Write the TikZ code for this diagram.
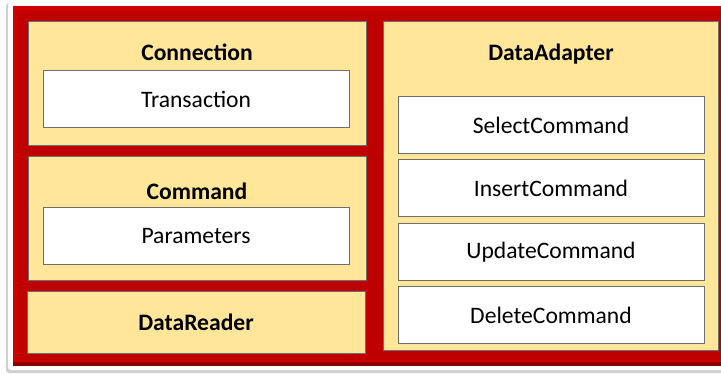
\documentclass[tikz,border=0pt]{standalone}
\usepackage{fontspec}
\setmainfont{Carlito}
\definecolor{frame}{HTML}{BE0000}
\definecolor{frametop}{HTML}{D00000}
\definecolor{framedark}{HTML}{8C0000}
\definecolor{panel}{HTML}{FFE699}
\definecolor{edge}{HTML}{6E6E6E}
\tikzset{
  panelbox/.style={draw=edge, line width=0.9pt, fill=panel},
  itembox/.style={draw=edge, line width=0.9pt, fill=white},
  lbl/.style={font=\fontsize{23.6}{28}\selectfont\bfseries, inner sep=0pt},
  itxt/.style={font=\fontsize{23.6}{28}\selectfont, inner sep=0pt},
}
\begin{document}
\begin{tikzpicture}[x=1pt, y=-1pt]
\useasboundingbox (0,0) rectangle (721,375);
% outer white frame with soft shadow
\fill[black!18, rounded corners=3pt] (6,3) rectangle (724,373);
\fill[white, rounded corners=3pt] (8,2) rectangle (724,370);
% red background with bevel
\fill[framedark] (13,6) rectangle (725,366);
\fill[frametop] (13,6) rectangle (722,362);
\fill[frame] (17,11) rectangle (722,360);
% left column
\draw[panelbox] (28,21) rectangle (366,145);
\node[lbl] (conn) at (197,52) {Connection};
\draw[itembox] (43,70) rectangle (349,127);
\node[itxt] (trans) at (196,99) {Transaction};

\draw[panelbox] (28,156) rectangle (366,280);
\node[lbl] (cmd) at (197,191) {Command};
\draw[itembox] (43,207) rectangle (349,264);
\node[itxt] (params) at (196,236) {Parameters};

\draw[panelbox] (27,291) rectangle (365,353);
\node[lbl] (reader) at (196,322) {DataReader};

% right column
\draw[panelbox] (383,21) rectangle (718,350);
\node[lbl] (adapter) at (551,54) {DataAdapter};
\draw[itembox] (398,96) rectangle (704,153);
\node[itxt] (sel) at (551,125) {SelectCommand};
\draw[itembox] (398,159) rectangle (704,216);
\node[itxt] (ins) at (551,188) {InsertCommand};
\draw[itembox] (398,223) rectangle (704,280);
\node[itxt] (upd) at (551,252) {UpdateCommand};
\draw[itembox] (398,286) rectangle (704,343);
\node[itxt] (del) at (551,315) {DeleteCommand};
\end{tikzpicture}
\end{document}
